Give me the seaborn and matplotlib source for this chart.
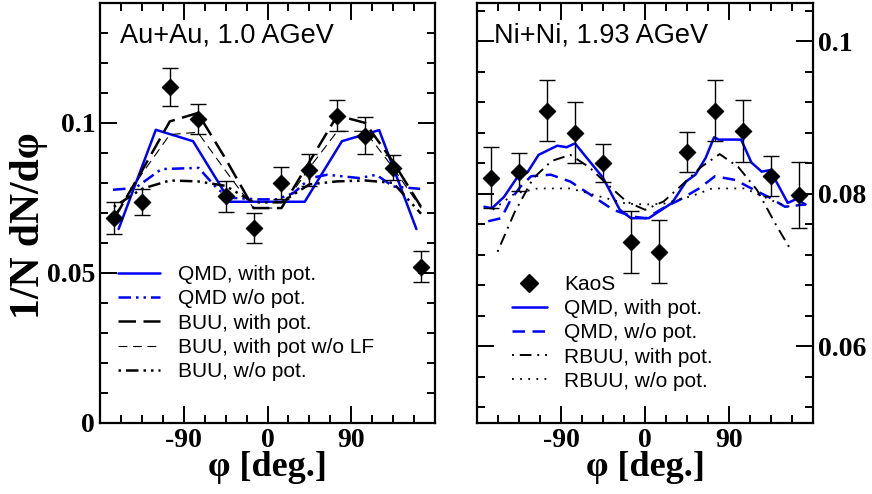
import numpy as np
import pandas as pd
import matplotlib
matplotlib.use("Agg")
import matplotlib.pyplot as plt
import seaborn as sns
from matplotlib.ticker import MultipleLocator, FixedLocator, FuncFormatter
from matplotlib.lines import Line2D

# KaoS data (both panels share the phi bins)
phi_data = [-165, -135, -105, -75, -45, -15, 15, 45, 75, 105, 135, 165]
au_kaos = [0.0683, 0.0736, 0.1119, 0.1013, 0.0755, 0.0649, 0.0800, 0.0842, 0.1024, 0.0958, 0.0850, 0.0521]
au_kaos_err = [0.0053, 0.0042, 0.0063, 0.0050, 0.0052, 0.0051, 0.0053, 0.0053, 0.0052, 0.0063, 0.0042, 0.0052]
ni_kaos = [0.0821, 0.0828, 0.0909, 0.0880, 0.0840, 0.0737, 0.0724, 0.0855, 0.0909, 0.0882, 0.0823, 0.0798]
ni_kaos_err = [0.0040, 0.0025, 0.0040, 0.0040, 0.0025, 0.0041, 0.0041, 0.0026, 0.0040, 0.0041, 0.0026, 0.0043]

# Au+Au model curves
au_qmd_pot_phi = [-160, -120, -80, -40, 0, 40, 80, 120, 160]
au_qmd_pot = [0.0646, 0.0977, 0.0939, 0.0737, 0.0737, 0.0737, 0.0939, 0.0976, 0.0646]
au_qmd_nopot_phi = [-166, -142, -114, -74, -53, -38, -10, 10, 28, 46, 64, 99, 117, 135, 164]
au_qmd_nopot = [0.0777, 0.0783, 0.0846, 0.0850, 0.0777, 0.0750, 0.0745, 0.0745, 0.0766, 0.0816, 0.0827, 0.0816, 0.0827, 0.0788, 0.0780]
au_buu_phi = [-165, -135, -105, -75, -45, -15, 15, 45, 75, 105, 135, 165]
au_buu_pot = [0.0680, 0.0840, 0.1005, 0.1033, 0.0880, 0.0716, 0.0716, 0.0870, 0.1025, 0.1000, 0.0870, 0.0720]
au_buu_nolf = [0.0688, 0.0830, 0.0961, 0.0969, 0.0840, 0.0716, 0.0716, 0.0850, 0.0972, 0.0972, 0.0850, 0.0716]
au_buu_nopot = [0.0720, 0.0780, 0.0808, 0.0805, 0.0790, 0.0735, 0.0735, 0.0795, 0.0805, 0.0808, 0.0800, 0.0697]

# Ni+Ni model curves
ni_qmd_pot_phi = [-172, -164, -151, -135, -126, -114, -94, -84, -75, -45, -27, -15, 4, 29, 44,
                  54, 65, 74, 79, 103, 114, 125, 134, 153, 162, 172]
ni_qmd_pot = [0.0783, 0.0781, 0.0796, 0.0825, 0.0828, 0.0851, 0.0863, 0.0861, 0.0866, 0.0821, 0.0779,
              0.0768, 0.0768, 0.0788, 0.0816, 0.0825, 0.0847, 0.0874, 0.0871, 0.0871, 0.0841, 0.0829,
              0.0831, 0.0788, 0.0793, 0.0786]
ni_qmd_nopot_phi = [-168, -154, -144, -133, -122, -101, -80, -55, -34, -13, 1, 22, 37, 58, 75, 97, 114, 132, 150, 172]
ni_qmd_nopot = [0.0764, 0.0768, 0.0792, 0.0810, 0.0823, 0.0825, 0.0816, 0.0796, 0.0779, 0.0770, 0.0768,
                0.0783, 0.0792, 0.0807, 0.0823, 0.0818, 0.0807, 0.0796, 0.0783, 0.0786]
ni_rbuu_pot_phi = [-158, -140, -120, -100, -80, -60, -40, -20, 0, 20, 40, 60, 80, 100, 120, 140, 155]
ni_rbuu_pot = [0.0724, 0.0775, 0.0820, 0.0843, 0.0851, 0.0835, 0.0812, 0.0790, 0.0779, 0.0790, 0.0812,
               0.0835, 0.0852, 0.0835, 0.0805, 0.0760, 0.0729]
ni_rbuu_nopot_phi = [-163, -140, -115, -80, -50, -20, 1, 20, 50, 72, 107, 142, 160]
ni_rbuu_nopot = [0.0779, 0.0800, 0.0807, 0.0807, 0.0797, 0.0787, 0.0786, 0.0787, 0.0797, 0.0807, 0.0807, 0.0788, 0.0781]

sns.set_style("ticks")
plt.rcParams['font.family'] = ['Liberation Sans', 'DejaVu Sans']
plt.rcParams['axes.unicode_minus'] = False
for key in ('text.color', 'axes.labelcolor', 'axes.edgecolor', 'xtick.color', 'ytick.color'):
    plt.rcParams[key] = 'black'

BLUE = '#0000ff'
serif_bold = {'family': ['Liberation Serif', 'DejaVu Serif'], 'weight': 'bold'}

fig = plt.figure(figsize=(8.72, 4.94), dpi=100)
ax1 = fig.add_axes([100 / 872, 71.3 / 494, 335 / 872, 419.7 / 494])
ax2 = fig.add_axes([477 / 872, 71.3 / 494, 336 / 872, 419.7 / 494])


def curve(ax, x, y, **kw):
    df = pd.DataFrame({'phi': x, 'val': y})
    sns.lineplot(data=df, x='phi', y='val', ax=ax, sort=False, estimator=None, legend=False, **kw)
    return Line2D([], [], **{k: v for k, v in kw.items() if k in ('color', 'lw', 'linestyle')})


def kaos(ax, y, err):
    ax.errorbar(phi_data, y, yerr=err, fmt='none', ecolor='black', elinewidth=1, capsize=6, capthick=1, zorder=5)
    sns.scatterplot(x=phi_data, y=y, ax=ax, marker='D', s=72, color='black', edgecolor='black', zorder=6, legend=False)


# ---- left panel: Au+Au
kaos(ax1, au_kaos, au_kaos_err)
h1 = [
    curve(ax1, au_qmd_pot_phi, au_qmd_pot, color=BLUE, lw=1.8, linestyle='-'),
    curve(ax1, au_qmd_nopot_phi, au_qmd_nopot, color=BLUE, lw=1.8, linestyle=(0, (5, 2, 1, 2, 1, 2))),
    curve(ax1, au_buu_phi, au_buu_pot, color='black', lw=1.8, linestyle=(0, (7, 3))),
    curve(ax1, au_buu_phi, au_buu_nolf, color='black', lw=0.8, linestyle=(0, (8, 5))),
    curve(ax1, au_buu_phi, au_buu_nopot, color='black', lw=1.8, linestyle=(0, (1, 2, 5, 2, 1, 2))),
]
labels1 = ['QMD, with pot.', 'QMD w/o pot.', 'BUU, with pot.', 'BUU, with pot w/o LF', 'BUU, w/o pot.']
ax1.legend(h1, labels1, loc='upper left', bbox_to_anchor=(0.03, 0.395), frameon=False, fontsize=15,
           handlelength=2.0, handletextpad=0.85, labelspacing=0.25, borderaxespad=0)
ax1.text(0.06, 0.905, 'Au+Au, 1.0 AGeV', transform=ax1.transAxes, fontsize=19.5, va='baseline')

ax1.set_xlim(-180, 180)
ax1.set_ylim(0, 0.14)
ax1.yaxis.set_major_locator(FixedLocator([0, 0.05, 0.1]))
ax1.yaxis.set_minor_locator(MultipleLocator(0.01))
ax1.yaxis.set_major_formatter(FuncFormatter(lambda v, p: '%g' % round(v, 3)))
ax1.set_ylabel('1/N dN/d\u03c6', fontdict=dict(serif_bold, size=30))
ax1.yaxis.set_label_coords(-0.155, 0.47)

# ---- right panel: Ni+Ni
h_k = Line2D([], [], marker='D', color='black', linestyle='none', markersize=9)
kaos(ax2, ni_kaos, ni_kaos_err)
h2 = [
    h_k,
    curve(ax2, ni_qmd_pot_phi, ni_qmd_pot, color=BLUE, lw=1.8, linestyle='-'),
    curve(ax2, ni_qmd_nopot_phi, ni_qmd_nopot, color=BLUE, lw=1.8, linestyle=(0, (5, 3))),
    curve(ax2, ni_rbuu_pot_phi, ni_rbuu_pot, color='black', lw=1.4, linestyle=(0, (1, 3, 6, 3))),
    curve(ax2, ni_rbuu_nopot_phi, ni_rbuu_nopot, color='black', lw=1.3, linestyle=(0, (1, 3.5))),
]
labels2 = ['KaoS', 'QMD, with pot.', 'QMD, w/o pot.', 'RBUU, with pot.', 'RBUU, w/o pot.']
ax2.legend(h2, labels2, loc='upper left', bbox_to_anchor=(0.08, 0.372), frameon=False, fontsize=15,
           handlelength=1.65, handletextpad=0.85, labelspacing=0.25, borderaxespad=0)
ax2.text(0.05, 0.905, 'Ni+Ni, 1.93 AGeV', transform=ax2.transAxes, fontsize=19.5, va='baseline')

ax2.set_xlim(-180, 180)
ax2.set_ylim(0.05, 0.105)
ax2.yaxis.set_major_locator(FixedLocator([0.06, 0.08, 0.1]))
ax2.yaxis.set_minor_locator(MultipleLocator(0.004))
ax2.yaxis.set_major_formatter(FuncFormatter(lambda v, p: '%g' % round(v, 3)))
ax2.yaxis.tick_right()
ax2.set_ylabel('')

for ax in (ax1, ax2):
    ax.xaxis.set_major_locator(FixedLocator([-90, 0, 90]))
    ax.xaxis.set_minor_locator(MultipleLocator(22.5))
    ax.set_xlabel('\u03c6 [deg.]', fontdict=dict(serif_bold, size=26), labelpad=-1)
    for s in ax.spines.values():
        s.set_visible(True)
        s.set_linewidth(1.6)
        s.set_color('black')
    ax.tick_params(which='both', direction='in', top=True, bottom=True, left=True, right=True,
                   width=1.4, color='black', labelcolor='black')
    ax.tick_params(which='major', length=12)
    ax.tick_params(which='minor', length=6)
    for lab in ax.get_xticklabels() + ax.get_yticklabels():
        lab.set_fontfamily(['Liberation Serif', 'DejaVu Serif'])
        lab.set_fontweight('bold')
        lab.set_fontsize(20)

ax1.tick_params(axis='y', which='both', labelleft=True, labelright=False)
ax2.tick_params(axis='y', which='both', labelleft=False, labelright=True)

fig.savefig('out.png', dpi=100)
